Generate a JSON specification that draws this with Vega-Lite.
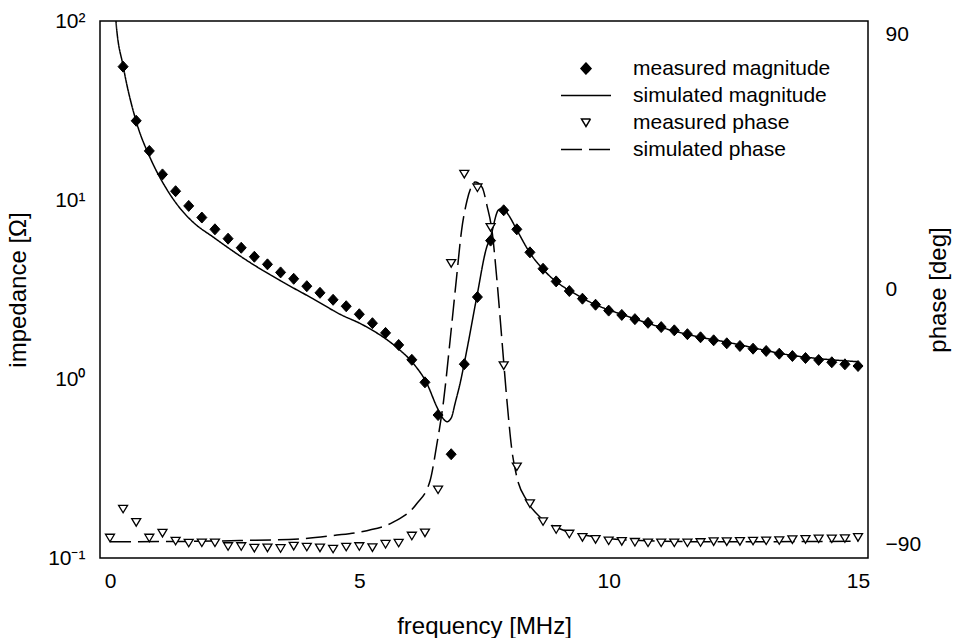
{
  "$schema": "https://vega.github.io/schema/vega-lite/v6.json",
  "width": 768,
  "height": 537,
  "autosize": "none",
  "padding": {"left": 100, "top": 21, "right": 90, "bottom": 80},
  "background": "white",
  "config": {
    "font": "Liberation Sans",
    "view": {"stroke": "black", "strokeWidth": 1.5},
    "axis": {
      "grid": false,
      "domain": false,
      "labelFont": "Liberation Sans",
      "labelFontSize": 21,
      "labelColor": "black",
      "titleFont": "Liberation Sans",
      "titleFontSize": 24,
      "titleFontWeight": "normal",
      "titleColor": "black",
      "tickColor": "black",
      "tickWidth": 1.5,
      "tickSize": 0,
      "labelFlush": false,
      "labelOverlap": false
    }
  },
  "datasets": {
    "magMeas": [
      {"s": "measured magnitude", "f": 0.263, "z": 55.6}, {"s": "measured magnitude", "f": 0.526, "z": 27.7}, {"s": "measured magnitude", "f": 0.789, "z": 18.8}, {"s": "measured magnitude", "f": 1.053, "z": 13.9},
      {"s": "measured magnitude", "f": 1.316, "z": 11.2}, {"s": "measured magnitude", "f": 1.579, "z": 9.27}, {"s": "measured magnitude", "f": 1.842, "z": 7.98}, {"s": "measured magnitude", "f": 2.105, "z": 6.86},
      {"s": "measured magnitude", "f": 2.368, "z": 6.08}, {"s": "measured magnitude", "f": 2.632, "z": 5.41}, {"s": "measured magnitude", "f": 2.895, "z": 4.82}, {"s": "measured magnitude", "f": 3.158, "z": 4.37},
      {"s": "measured magnitude", "f": 3.421, "z": 3.94}, {"s": "measured magnitude", "f": 3.684, "z": 3.63}, {"s": "measured magnitude", "f": 3.947, "z": 3.3}, {"s": "measured magnitude", "f": 4.211, "z": 3.03},
      {"s": "measured magnitude", "f": 4.474, "z": 2.77}, {"s": "measured magnitude", "f": 4.737, "z": 2.55}, {"s": "measured magnitude", "f": 5.0, "z": 2.3}, {"s": "measured magnitude", "f": 5.263, "z": 2.05},
      {"s": "measured magnitude", "f": 5.526, "z": 1.81}, {"s": "measured magnitude", "f": 5.789, "z": 1.55}, {"s": "measured magnitude", "f": 6.053, "z": 1.28}, {"s": "measured magnitude", "f": 6.316, "z": 0.958},
      {"s": "measured magnitude", "f": 6.579, "z": 0.629}, {"s": "measured magnitude", "f": 6.842, "z": 0.38}, {"s": "measured magnitude", "f": 7.105, "z": 1.21}, {"s": "measured magnitude", "f": 7.368, "z": 2.87},
      {"s": "measured magnitude", "f": 7.632, "z": 5.93}, {"s": "measured magnitude", "f": 7.895, "z": 8.76}, {"s": "measured magnitude", "f": 8.158, "z": 6.86}, {"s": "measured magnitude", "f": 8.421, "z": 5.1},
      {"s": "measured magnitude", "f": 8.684, "z": 4.13}, {"s": "measured magnitude", "f": 8.947, "z": 3.51}, {"s": "measured magnitude", "f": 9.211, "z": 3.1}, {"s": "measured magnitude", "f": 9.474, "z": 2.81},
      {"s": "measured magnitude", "f": 9.737, "z": 2.6}, {"s": "measured magnitude", "f": 10.0, "z": 2.41}, {"s": "measured magnitude", "f": 10.263, "z": 2.28}, {"s": "measured magnitude", "f": 10.526, "z": 2.16},
      {"s": "measured magnitude", "f": 10.789, "z": 2.06}, {"s": "measured magnitude", "f": 11.053, "z": 1.95}, {"s": "measured magnitude", "f": 11.316, "z": 1.87}, {"s": "measured magnitude", "f": 11.579, "z": 1.78},
      {"s": "measured magnitude", "f": 11.842, "z": 1.71}, {"s": "measured magnitude", "f": 12.105, "z": 1.645}, {"s": "measured magnitude", "f": 12.368, "z": 1.583}, {"s": "measured magnitude", "f": 12.632, "z": 1.529},
      {"s": "measured magnitude", "f": 12.895, "z": 1.477}, {"s": "measured magnitude", "f": 13.158, "z": 1.434}, {"s": "measured magnitude", "f": 13.421, "z": 1.385}, {"s": "measured magnitude", "f": 13.684, "z": 1.344},
      {"s": "measured magnitude", "f": 13.947, "z": 1.31}, {"s": "measured magnitude", "f": 14.211, "z": 1.277}, {"s": "measured magnitude", "f": 14.474, "z": 1.24}, {"s": "measured magnitude", "f": 14.737, "z": 1.208},
      {"s": "measured magnitude", "f": 15.0, "z": 1.182}
    ],
    "magSim": [
      {"s": "simulated magnitude", "f": 0.1, "z": 125}, {"s": "simulated magnitude", "f": 0.12, "z": 100}, {"s": "simulated magnitude", "f": 0.267, "z": 55.6}, {"s": "simulated magnitude", "f": 0.536, "z": 26.9},
      {"s": "simulated magnitude", "f": 0.802, "z": 17.3}, {"s": "simulated magnitude", "f": 1.137, "z": 11.5}, {"s": "simulated magnitude", "f": 1.404, "z": 9.0}, {"s": "simulated magnitude", "f": 1.671, "z": 7.5},
      {"s": "simulated magnitude", "f": 2.072, "z": 6.2}, {"s": "simulated magnitude", "f": 2.742, "z": 4.6}, {"s": "simulated magnitude", "f": 3.41, "z": 3.55}, {"s": "simulated magnitude", "f": 4.078, "z": 2.8},
      {"s": "simulated magnitude", "f": 4.614, "z": 2.3}, {"s": "simulated magnitude", "f": 5.08, "z": 2.0}, {"s": "simulated magnitude", "f": 5.751, "z": 1.5}, {"s": "simulated magnitude", "f": 6.084, "z": 1.22},
      {"s": "simulated magnitude", "f": 6.353, "z": 0.946}, {"s": "simulated magnitude", "f": 6.553, "z": 0.7}, {"s": "simulated magnitude", "f": 6.654, "z": 0.616}, {"s": "simulated magnitude", "f": 6.72, "z": 0.585},
      {"s": "simulated magnitude", "f": 6.76, "z": 0.577}, {"s": "simulated magnitude", "f": 6.8, "z": 0.585}, {"s": "simulated magnitude", "f": 6.854, "z": 0.616}, {"s": "simulated magnitude", "f": 6.92, "z": 0.73},
      {"s": "simulated magnitude", "f": 7.021, "z": 0.946}, {"s": "simulated magnitude", "f": 7.156, "z": 1.452}, {"s": "simulated magnitude", "f": 7.356, "z": 2.883}, {"s": "simulated magnitude", "f": 7.557, "z": 5.48},
      {"s": "simulated magnitude", "f": 7.623, "z": 6.11}, {"s": "simulated magnitude", "f": 7.789, "z": 8.79}, {"s": "simulated magnitude", "f": 7.878, "z": 8.99}, {"s": "simulated magnitude", "f": 7.99, "z": 8.26},
      {"s": "simulated magnitude", "f": 8.159, "z": 6.8}, {"s": "simulated magnitude", "f": 8.426, "z": 5.04}, {"s": "simulated magnitude", "f": 8.76, "z": 3.9}, {"s": "simulated magnitude", "f": 9.428, "z": 2.88},
      {"s": "simulated magnitude", "f": 10.5, "z": 2.18}, {"s": "simulated magnitude", "f": 11.63, "z": 1.761}, {"s": "simulated magnitude", "f": 12.4, "z": 1.6}, {"s": "simulated magnitude", "f": 13.64, "z": 1.36},
      {"s": "simulated magnitude", "f": 15.0, "z": 1.249}
    ],
    "phaseMeas": [
      {"s": "measured phase", "f": 0.0, "p": -87.6}, {"s": "measured phase", "f": 0.263, "p": -77.4}, {"s": "measured phase", "f": 0.526, "p": -82.1}, {"s": "measured phase", "f": 0.789, "p": -87.6},
      {"s": "measured phase", "f": 1.053, "p": -85.9}, {"s": "measured phase", "f": 1.316, "p": -88.7}, {"s": "measured phase", "f": 1.579, "p": -89.4}, {"s": "measured phase", "f": 1.842, "p": -89.3},
      {"s": "measured phase", "f": 2.105, "p": -89.3}, {"s": "measured phase", "f": 2.368, "p": -90.6}, {"s": "measured phase", "f": 2.632, "p": -90.6}, {"s": "measured phase", "f": 2.895, "p": -91.2},
      {"s": "measured phase", "f": 3.158, "p": -91.1}, {"s": "measured phase", "f": 3.421, "p": -91.3}, {"s": "measured phase", "f": 3.684, "p": -90.5}, {"s": "measured phase", "f": 3.947, "p": -90.8},
      {"s": "measured phase", "f": 4.211, "p": -91.1}, {"s": "measured phase", "f": 4.474, "p": -91.5}, {"s": "measured phase", "f": 4.737, "p": -90.8}, {"s": "measured phase", "f": 5.0, "p": -90.6},
      {"s": "measured phase", "f": 5.263, "p": -91.0}, {"s": "measured phase", "f": 5.526, "p": -89.8}, {"s": "measured phase", "f": 5.789, "p": -89.4}, {"s": "measured phase", "f": 6.053, "p": -86.9},
      {"s": "measured phase", "f": 6.316, "p": -85.8}, {"s": "measured phase", "f": 6.579, "p": -70.6}, {"s": "measured phase", "f": 6.842, "p": 9.3}, {"s": "measured phase", "f": 7.105, "p": 40.8},
      {"s": "measured phase", "f": 7.368, "p": 36.0}, {"s": "measured phase", "f": 7.632, "p": 22.0}, {"s": "measured phase", "f": 7.895, "p": -26.8}, {"s": "measured phase", "f": 8.158, "p": -62.5},
      {"s": "measured phase", "f": 8.421, "p": -75.5}, {"s": "measured phase", "f": 8.684, "p": -81.8}, {"s": "measured phase", "f": 8.947, "p": -84.6}, {"s": "measured phase", "f": 9.211, "p": -86.2},
      {"s": "measured phase", "f": 9.474, "p": -87.4}, {"s": "measured phase", "f": 9.737, "p": -88.1}, {"s": "measured phase", "f": 10.0, "p": -88.6}, {"s": "measured phase", "f": 10.263, "p": -88.8},
      {"s": "measured phase", "f": 10.526, "p": -89.1}, {"s": "measured phase", "f": 10.789, "p": -89.3}, {"s": "measured phase", "f": 11.053, "p": -89.3}, {"s": "measured phase", "f": 11.316, "p": -89.3},
      {"s": "measured phase", "f": 11.579, "p": -89.3}, {"s": "measured phase", "f": 11.842, "p": -89.2}, {"s": "measured phase", "f": 12.105, "p": -88.9}, {"s": "measured phase", "f": 12.368, "p": -88.9},
      {"s": "measured phase", "f": 12.632, "p": -88.8}, {"s": "measured phase", "f": 12.895, "p": -88.7}, {"s": "measured phase", "f": 13.158, "p": -88.6}, {"s": "measured phase", "f": 13.421, "p": -88.5},
      {"s": "measured phase", "f": 13.684, "p": -88.2}, {"s": "measured phase", "f": 13.947, "p": -88.1}, {"s": "measured phase", "f": 14.211, "p": -87.9}, {"s": "measured phase", "f": 14.474, "p": -87.9},
      {"s": "measured phase", "f": 14.737, "p": -87.8}, {"s": "measured phase", "f": 15.0, "p": -87.4}
    ],
    "phaseSim": [
      {"s": "simulated phase", "f": 0.0, "p": -89.0}, {"s": "simulated phase", "f": 1.5, "p": -88.9}, {"s": "simulated phase", "f": 2.6, "p": -88.6}, {"s": "simulated phase", "f": 3.81, "p": -88.0},
      {"s": "simulated phase", "f": 4.48, "p": -86.8}, {"s": "simulated phase", "f": 5.15, "p": -85.1}, {"s": "simulated phase", "f": 5.68, "p": -82.1}, {"s": "simulated phase", "f": 6.15, "p": -75.6},
      {"s": "simulated phase", "f": 6.42, "p": -67.4}, {"s": "simulated phase", "f": 6.55, "p": -55.1}, {"s": "simulated phase", "f": 6.69, "p": -39.2}, {"s": "simulated phase", "f": 6.82, "p": -18.0},
      {"s": "simulated phase", "f": 6.95, "p": 4.3}, {"s": "simulated phase", "f": 7.05, "p": 20.8}, {"s": "simulated phase", "f": 7.16, "p": 31.4}, {"s": "simulated phase", "f": 7.26, "p": 36.7},
      {"s": "simulated phase", "f": 7.32, "p": 37.9}, {"s": "simulated phase", "f": 7.46, "p": 36.1}, {"s": "simulated phase", "f": 7.56, "p": 29.6}, {"s": "simulated phase", "f": 7.66, "p": 20.8},
      {"s": "simulated phase", "f": 7.76, "p": 3.2}, {"s": "simulated phase", "f": 7.86, "p": -18.0}, {"s": "simulated phase", "f": 7.96, "p": -39.2}, {"s": "simulated phase", "f": 8.06, "p": -56.8},
      {"s": "simulated phase", "f": 8.16, "p": -66.3}, {"s": "simulated phase", "f": 8.36, "p": -74.5}, {"s": "simulated phase", "f": 8.63, "p": -80.4}, {"s": "simulated phase", "f": 9.03, "p": -84.5},
      {"s": "simulated phase", "f": 9.56, "p": -86.8}, {"s": "simulated phase", "f": 10.63, "p": -88.6}, {"s": "simulated phase", "f": 11.84, "p": -89.0}, {"s": "simulated phase", "f": 13.04, "p": -89.0},
      {"s": "simulated phase", "f": 15.0, "p": -88.8}
    ]
  },
  "layer": [
    {
      "encoding": {
        "x": {
          "field": "f", "type": "quantitative",
          "scale": {"domain": [-0.2, 15.2], "nice": false, "zero": false},
          "axis": {
            "orient": "bottom",
            "values": [0, 1, 2, 3, 4, 5, 6, 7, 8, 9, 10, 11, 12, 13, 14, 15],
            "labelExpr": "datum.value % 5 === 0 ? datum.label : ''",
            "labelPadding": 12,
            "title": "frequency [MHz]",
            "titlePadding": 23,
            "encode": {"ticks": {"update": {"y2": {"signal": "datum.value % 5 === 0 ? -8 : -5"}}}}
          }
        },
        "y": {
          "field": "z", "type": "quantitative",
          "scale": {"type": "log", "domain": [0.1, 100], "nice": false},
          "axis": {
            "orient": "left",
            "values": [0.1, 0.2, 0.3, 0.4, 0.5, 0.6, 0.7, 0.8, 0.9, 1, 2, 3, 4, 5, 6, 7, 8, 9, 10, 20, 30, 40, 50, 60, 70, 80, 90, 100],
            "labelExpr": "datum.value === 0.1 ? '10⁻¹' : datum.value === 1 ? '10⁰' : datum.value === 10 ? '10¹' : datum.value === 100 ? '10²' : ''",
            "labelPadding": 15,
            "title": "impedance [Ω]",
            "titlePadding": 17.5,
            "encode": {"ticks": {"update": {"x2": {"signal": "abs(log(datum.value)/LN10 - round(log(datum.value)/LN10)) < 0.01 ? 8 : 5"}}}}
          }
        }
      },
      "layer": [
        {
          "data": {"name": "magSim"},
          "mark": {"type": "line", "interpolate": "monotone", "strokeWidth": 1.5, "clip": true},
          "encoding": {
            "stroke": {"field": "s", "type": "nominal", "scale": {"domain": ["measured magnitude", "simulated magnitude", "measured phase", "simulated phase"], "range": ["black", "black", "black", "black"]}, "legend": {"orient": "none", "legendX": 460, "legendY": 37, "title": null}},
            "strokeDash": {"field": "s", "type": "nominal", "scale": {"domain": ["measured magnitude", "simulated magnitude", "measured phase", "simulated phase"], "range": [[1, 0], [1, 0], [1, 0], [21, 7]]}, "legend": {"orient": "none", "legendX": 460, "legendY": 37, "title": null}}
          }
        },
        {
          "data": {"name": "magMeas"},
          "mark": {"type": "point", "filled": true, "strokeWidth": 1, "size": 100, "opacity": 1},
          "encoding": {
            "shape": {
              "field": "s", "type": "nominal",
              "scale": {
                "domain": ["measured magnitude", "simulated magnitude", "measured phase", "simulated phase"],
                "range": ["M0,-1.1L1,0L0,1.1L-1,0Z", "M-5,0L5,0", "M-0.9,-0.7L0.9,-0.7L0,0.8Z", "M-5,0L5,0"]
              },
              "legend": {
                "orient": "none", "legendX": 460, "legendY": 37, "title": null,
                "symbolSize": 100, "symbolOffset": 15.5,
                "symbolStrokeWidth": 1.5, "symbolFillColor": "transparent",
                "labelFontSize": 21, "labelFont": "Liberation Sans", "labelColor": "black", "labelLimit": 500,
                "labelOffset": 36.5, "rowPadding": 5, "padding": 0
              }
            },
            "fill": {"field": "s", "type": "nominal", "scale": {"domain": ["measured magnitude", "simulated magnitude", "measured phase", "simulated phase"], "range": ["black", "transparent", "white", "transparent"]}, "legend": {"orient": "none", "legendX": 460, "legendY": 37, "title": null}},
            "stroke": {"field": "s", "type": "nominal", "scale": {"domain": ["measured magnitude", "simulated magnitude", "measured phase", "simulated phase"], "range": ["black", "black", "black", "black"]}, "legend": {"orient": "none", "legendX": 460, "legendY": 37, "title": null}}
          }
        }
      ]
    },
    {
      "encoding": {
        "x": {
          "field": "f", "type": "quantitative",
          "scale": {"domain": [-0.2, 15.2], "nice": false, "zero": false},
          "axis": {
            "orient": "top",
            "values": [0, 1, 2, 3, 4, 5, 6, 7, 8, 9, 10, 11, 12, 13, 14, 15],
            "labels": false,
            "title": null,
            "encode": {"ticks": {"update": {"y2": {"signal": "datum.value % 5 === 0 ? 8 : 5"}}}}
          }
        },
        "y": {
          "field": "p", "type": "quantitative",
          "scale": {"domain": [-94.75, 94.75], "nice": false, "zero": false},
          "axis": {
            "orient": "right",
            "values": [-90, -60, -30, 0, 30, 60, 90],
            "labelExpr": "datum.value % 90 === 0 ? datum.label : ''",
            "labelPadding": 17,
            "title": "phase [deg]",
            "titleAngle": -90,
            "titlePadding": 30,
            "encode": {"ticks": {"update": {"x2": {"signal": "datum.value % 90 === 0 ? -8 : -5"}}}}
          }
        }
      },
      "layer": [
        {
          "data": {"name": "phaseSim"},
          "mark": {"type": "line", "interpolate": "monotone", "strokeWidth": 1.5},
          "encoding": {
            "stroke": {"field": "s", "type": "nominal"},
            "strokeDash": {"field": "s", "type": "nominal"}
          }
        },
        {
          "data": {"name": "phaseMeas"},
          "mark": {"type": "point", "filled": true, "strokeWidth": 1.3, "size": 100, "opacity": 1},
          "encoding": {
            "shape": {"field": "s", "type": "nominal"},
            "fill": {"field": "s", "type": "nominal"},
            "stroke": {"field": "s", "type": "nominal"}
          }
        }
      ]
    }
  ],
  "resolve": {"scale": {"y": "independent"}, "axis": {"x": "independent", "y": "independent"}}
}
